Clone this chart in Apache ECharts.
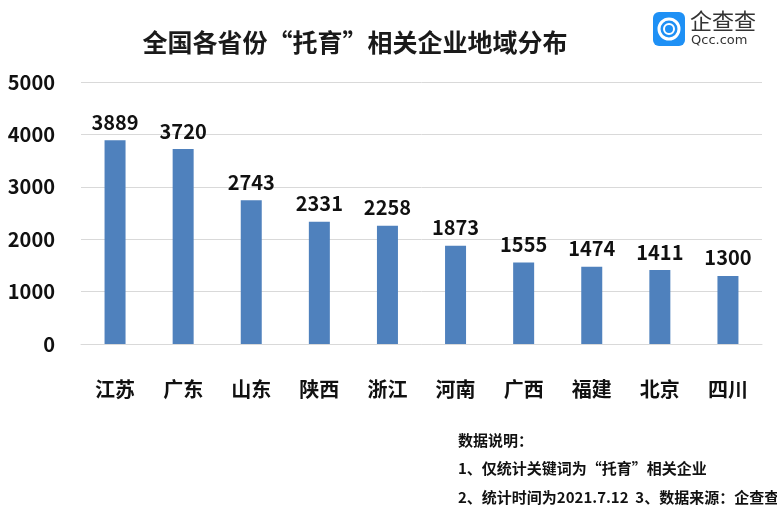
<!DOCTYPE html>
<html><head><meta charset="utf-8">
<script src="https://cdn.jsdelivr.net/npm/echarts@6/dist/echarts.min.js"></script>
<style>html,body{margin:0;padding:0;background:#fff}#c{width:777px;height:511px}</style>
</head><body><div id="c"></div>
<script>
var categories = ['江苏','广东','山东','陕西','浙江','河南','广西','福建','北京','四川'];
var values = [3889,3720,2743,2331,2258,1873,1555,1474,1411,1300];
var titleText = '全国各省份“托育”相关企业地域分布';
var notes = ['数据说明：','1、仅统计关键词为“托育”相关企业','2、统计时间为2021.7.12  3、数据来源：企查查'];
var font = '"Noto Sans CJK SC", "Noto Sans", sans-serif';
var chart = echarts.init(document.getElementById('c'));
chart.setOption({
  animation:false,
  title:{text:titleText,left:350,top:25,textAlign:'center',textStyle:{fontFamily:font,fontSize:25,fontWeight:'bold',color:'#1a1a1a'}},
  grid:{left:81,right:15,top:82,bottom:167},
  xAxis:{type:'category',data:categories,axisTick:{show:false},axisLine:{lineStyle:{color:'#d9d9d9',width:1}},
    axisLabel:{margin:35,fontFamily:font,fontSize:20,fontWeight:'bold',color:'#111'}},
  yAxis:{type:'value',min:0,max:5000,interval:1000,axisLine:{show:false},axisTick:{show:false},
    splitLine:{lineStyle:{color:'#d9d9d9',width:1}},
    axisLabel:{margin:26,fontFamily:font,fontSize:20,fontWeight:'bold',color:'#111',formatter:function(v){return String(v);}}},
  series:[{type:'bar',data:values,barWidth:21,itemStyle:{color:'#4f81bd'},
    label:{show:true,position:'top',distance:8,fontFamily:font,fontSize:20,fontWeight:'bold',color:'#111'}}],
  graphic:[
    {type:'rect',left:653,top:12,shape:{width:32,height:34,r:6},style:{fill:'#1e90f5'}},
    {type:'circle',shape:{cx:669,cy:29,r:10},style:{fill:'none',stroke:'#fff',lineWidth:3}},
    {type:'circle',shape:{cx:669,cy:29,r:5},style:{fill:'none',stroke:'#fff',lineWidth:2}},
    {type:'text',left:690,top:10,style:{text:'企查查',font:'22px '+font,fill:'#333'}},
    {type:'text',left:691,top:34,style:{text:'Qcc.com',font:'13px "DejaVu Sans", sans-serif',fill:'#333'}},
    {type:'text',left:458,top:433,style:{text:notes[0],font:'bold 15px '+font,fill:'#111'}},
    {type:'text',left:458,top:461,style:{text:notes[1],font:'bold 15px '+font,fill:'#111'}},
    {type:'text',left:458,top:490,style:{text:notes[2],font:'bold 15px '+font,fill:'#111'}}
  ]
});
</script></body></html>
